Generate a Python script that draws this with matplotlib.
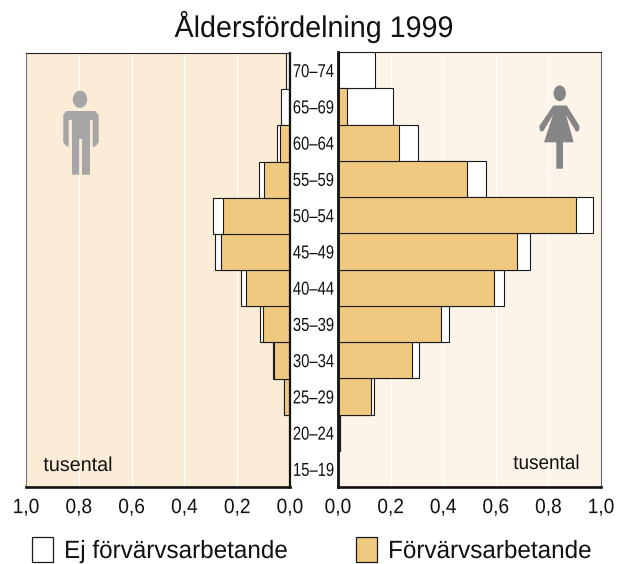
import matplotlib
matplotlib.use("Agg")
import matplotlib.pyplot as plt
from matplotlib.patches import Polygon, Ellipse, Rectangle
from matplotlib.patheffects import AbstractPathEffect
from matplotlib.transforms import Affine2D
import numpy as np

plt.rcParams['font.family'] = ['Liberation Sans', 'DejaVu Sans']

age_groups = ['15–19', '20–24', '25–29', '30–34', '35–39', '40–44', '45–49', '50–54', '55–59', '60–64', '65–69', '70–74']
men_employed = [0.0, 0.0, 0.022, 0.060, 0.102, 0.168, 0.261, 0.252, 0.097, 0.037, 0.005, 0.003]
men_total = [0.0, 0.0, 0.022, 0.063, 0.113, 0.187, 0.285, 0.293, 0.118, 0.048, 0.035, 0.017]
women_employed = [0.0, 0.009, 0.124, 0.280, 0.392, 0.592, 0.681, 0.906, 0.492, 0.233, 0.035, 0.005]
women_total = [0.0, 0.009, 0.137, 0.308, 0.422, 0.631, 0.731, 0.971, 0.564, 0.305, 0.208, 0.142]
x_ticks = [0.0, 0.2, 0.4, 0.6, 0.8, 1.0]
x_labels = ['0,0', '0,2', '0,4', '0,6', '0,8', '1,0']
title = 'Åldersfördelning 1999'
unit = 'tusental'
legend_empty = 'Ej förvärvsarbetande'
legend_work = 'Förvärvsarbetande'

W, H = 626, 564
fig = plt.figure(figsize=(W / 100, H / 100), dpi=100, facecolor='white')
ORANGE = '#F0C981'
EDGE = '#1a1a1a'
TXT = '#111111'


class Squeeze(AbstractPathEffect):
    """Condense text horizontally about its centre or left edge."""
    def __init__(self, sx, left=False):
        super().__init__()
        self.sx, self.left = sx, left

    def draw_path(self, renderer, gc, tpath, affine, rgbFace=None):
        ext = affine.transform_path(tpath).get_extents()
        cx = ext.x0 if self.left else (ext.x0 + ext.x1) / 2
        squeeze = Affine2D().translate(-cx, 0).scale(self.sx, 1).translate(cx, 0)
        renderer.draw_path(gc, tpath, affine + squeeze, rgbFace)


def make_ax(x0, x1, top, bottom, bg):
    ax = fig.add_axes([x0 / W, 1 - bottom / H, (x1 - x0) / W, (bottom - top) / H], facecolor=bg)
    ax.set_ylim(-0.5, 11.5)
    ax.set_yticks([])
    ax.set_xticks(x_ticks)
    ax.set_xticklabels(x_labels, fontsize=15, color=TXT)
    for lab in ax.get_xticklabels():
        lab.set_path_effects([Squeeze(0.92)])
    ax.tick_params(axis='x', length=0, pad=8)
    ax.grid(axis='x', color='white', lw=0.85, zorder=1)
    ax.set_axisbelow(True)
    return ax


axL = make_ax(26, 290, 53, 487, '#FAECD6')
axL.set_xlim(1.0, 0.0)
axR = make_ax(338, 601, 52, 487, '#FDF4E9')
axR.set_xlim(0.0, 1.0)

for ax, total, emp in ((axL, men_total, men_employed), (axR, women_total, women_employed)):
    ypos = np.arange(len(age_groups))
    ax.barh(ypos, total, height=1.0, color='white', edgecolor=EDGE, lw=0.8, zorder=2)
    ax.barh(ypos, emp, height=1.0, color=ORANGE, edgecolor=EDGE, lw=0.8, zorder=3)

for ax in (axL, axR):
    for spine in ax.spines.values():
        spine.set_color('#222222')
        spine.set_linewidth(0.8)
        spine.set_zorder(5)
axL.spines['left'].set_color('#777777')
axL.spines['right'].set_color('#111111')
axL.spines['right'].set_linewidth(1.6)
axL.spines['bottom'].set_color('#111111')
axL.spines['bottom'].set_linewidth(1.9)
axR.spines['left'].set_color('#111111')
axR.spines['left'].set_linewidth(2.0)
axR.spines['bottom'].set_color('#111111')
axR.spines['bottom'].set_linewidth(1.9)
axR.spines['right'].set_color('#666666')

for i, lab in enumerate(age_groups):
    y = 489.5 - (i + 0.5) * 36.25
    fig.text(313.5 / W, 1 - y / H, lab, ha='center', va='center', fontsize=13.5, color=TXT,
             path_effects=[Squeeze(0.79)])

fig.text(314 / W, 1 - 27 / H, title, ha='center', va='center', fontsize=21.5, color=TXT,
         path_effects=[Squeeze(0.96)])
fig.text(78 / W, 1 - 465.5 / H, unit, ha='center', va='center', fontsize=14.5, color=TXT,
         path_effects=[Squeeze(0.98)])
fig.text(546.5 / W, 1 - 463.5 / H, unit, ha='center', va='center', fontsize=14.5, color=TXT,
         path_effects=[Squeeze(0.94)])

# legend
fig.add_artist(Rectangle((32 / W, 1 - 561.5 / H), 21 / W, 24.5 / H, transform=fig.transFigure, fc='white', ec=EDGE, lw=0.9))
fig.add_artist(Rectangle((356 / W, 1 - 561.5 / H), 21 / W, 24.5 / H, transform=fig.transFigure, fc=ORANGE, ec=EDGE, lw=0.9))
fig.text(64 / W, 1 - 551 / H, legend_empty, ha='left', va='center', fontsize=18, color=TXT,
         path_effects=[Squeeze(0.97, left=True)])
fig.text(388 / W, 1 - 551 / H, legend_work, ha='left', va='center', fontsize=18, color=TXT,
         path_effects=[Squeeze(0.97, left=True)])


def P(pts):
    return [(x / W, 1 - y / H) for x, y in pts]


# man icon
GM = '#A6A6A6'
fig.add_artist(Ellipse((80 / W, 1 - 99.3 / H), 14.3 / W, 17.3 / H, transform=fig.transFigure, fc=GM, ec='none'))
man = [(66, 111), (95, 111), (98.7, 115), (98.7, 142), (96, 146), (92.7, 147), (92.7, 120), (90, 120), (90, 174.7),
       (82, 174.7), (82, 139), (79.3, 139), (79.3, 174.7), (72, 174.7), (72, 120), (68.7, 120), (68.7, 147),
       (65, 145), (63.3, 142), (63.3, 115)]
fig.add_artist(Polygon(P(man), closed=True, transform=fig.transFigure, fc=GM, ec='none'))

# woman icon
GW = '#858585'
fig.add_artist(Ellipse((559.7 / W, 1 - 93.3 / H), 12.3 / W, 15.7 / H, transform=fig.transFigure, fc=GW, ec='none'))
woman = [(553.3, 105.5), (566.7, 105.5), (579.5, 126), (579, 131), (576, 131.5), (566, 115), (573.7, 142.3),
         (563, 142.3), (563, 168.7), (556.3, 168.7), (556.3, 142.3), (544, 142.3), (553, 115), (543, 131.5),
         (540, 131), (539.3, 126)]
fig.add_artist(Polygon(P(woman), closed=True, transform=fig.transFigure, fc=GW, ec='none'))

fig.savefig('out.png', dpi=100)
